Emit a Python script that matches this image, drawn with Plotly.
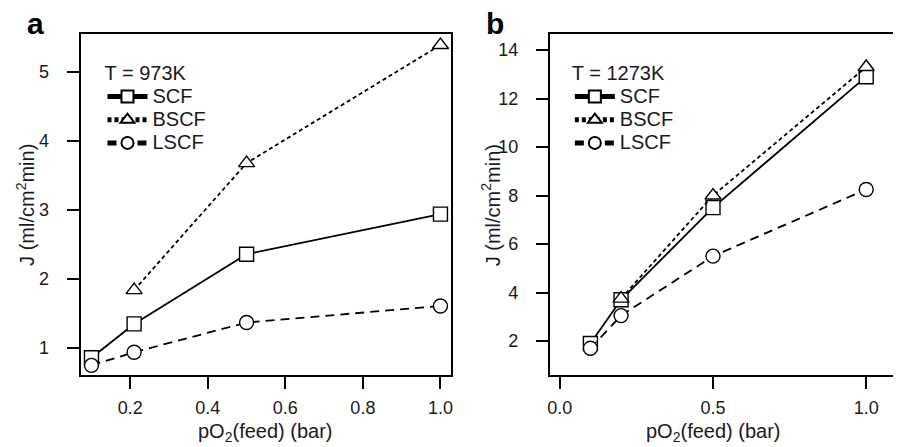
import plotly.graph_objects as go

# Panel a data (T = 973K)
x_a = [0.1, 0.21, 0.5, 1.0]
scf_a = [0.86, 1.35, 2.36, 2.94]
x_a_bscf = [0.21, 0.5, 1.0]
bscf_a = [1.84, 3.68, 5.39]
lscf_a = [0.75, 0.94, 1.37, 1.61]

# Panel b data (T = 1273K)
x_b = [0.1, 0.2, 0.5, 1.0]
scf_b = [1.9, 3.7, 7.5, 12.9]
x_b_bscf = [0.2, 0.5, 1.0]
bscf_b = [3.75, 8.0, 13.3]
lscf_b = [1.7, 3.05, 5.5, 8.25]

series_names = ["SCF", "BSCF", "LSCF"]
xticks_a = [0.2, 0.4, 0.6, 0.8, 1.0]
yticks_a = [1, 2, 3, 4, 5]
xticks_b = [0.0, 0.5, 1.0]
yticks_b = [2, 4, 6, 8, 10, 12, 14]

# page has an 8px body margin; figure is sized to fill the rest
OFF = 8
W, H = 901 - OFF, 447 - OFF
FONT = "Liberation Sans, Arial, Helvetica, sans-serif"
TXT = "#1a1a1a"


def px(x):
    return (x - OFF) / W


def py(y):
    return 1 - (y - OFF) / H


fig = go.Figure()


def add_series(x, y, name, symbol, dash, xa, ya, legend):
    fig.add_trace(go.Scatter(
        x=x, y=y, name='<span style="font-size:20px">%s</span>' % name,
        mode="lines+markers",
        line=dict(color="black", width=1.8, dash=dash),
        marker=dict(symbol=symbol, size=14, color="white",
                    line=dict(color="black", width=1.4)),
        xaxis=xa, yaxis=ya, legend=legend, cliponaxis=False,
    ))


add_series(x_a, scf_a, series_names[0], "square", "solid", "x", "y", "legend")
add_series(x_a_bscf, bscf_a, series_names[1], "triangle-up", "4px,3px", "x", "y", "legend")
add_series(x_a, lscf_a, series_names[2], "circle", "9px,6px", "x", "y", "legend")

add_series(x_b, scf_b, series_names[0], "square", "solid", "x2", "y2", "legend2")
add_series(x_b_bscf, bscf_b, series_names[1], "triangle-up", "4px,3px", "x2", "y2", "legend2")
add_series(x_b, lscf_b, series_names[2], "circle", "9px,6px", "x2", "y2", "legend2")

y_dom = [py(375), py(34)]

axis_common = dict(
    showline=True, linecolor="black", linewidth=2,
    ticks="outside", ticklen=12, tickwidth=2, tickcolor="black",
    showgrid=False, zeroline=False,
    tickfont=dict(family=FONT, size=18, color=TXT),
)

legend_common = dict(
    xanchor="left", yanchor="top", bgcolor="rgba(0,0,0,0)",
    font=dict(family=FONT, size=15.5, color=TXT),
    tracegroupgap=0, itemsizing="constant", itemwidth=40,
)

fig.update_layout(
    width=W, height=H,
    margin=dict(l=0, r=0, t=0, b=0),
    paper_bgcolor="white", plot_bgcolor="white",
    font=dict(family=FONT, color="black"),
    xaxis=dict(domain=[px(78), px(450)], range=[0.072, 1.026],
               tickvals=xticks_a, tickformat=".1f", mirror=True, anchor="y",
               ticklabelstandoff=3, **axis_common),
    yaxis=dict(domain=y_dom, range=[0.61, 5.55], tickvals=yticks_a,
               mirror=True, anchor="x", ticklabelstandoff=14, **axis_common),
    xaxis2=dict(domain=[px(550), 1.0], range=[-0.032, 1.107],
                tickvals=xticks_b, tickformat=".1f", mirror=True, anchor="y2",
                ticklabelstandoff=3, **axis_common),
    yaxis2=dict(domain=y_dom, range=[0.6, 14.66], tickvals=yticks_b,
                anchor="x2", ticklabelstandoff=14, **axis_common),
    legend=dict(x=px(100), y=py(54),
                title=dict(text="T = 973K", font=dict(family=FONT, size=20, color=TXT)),
                **legend_common),
    legend2=dict(x=px(570), y=py(54),
                 title=dict(text="T = 1273K", font=dict(family=FONT, size=20, color=TXT)),
                 **legend_common),
    showlegend=True,
)

ann_font = dict(family=FONT, size=20, color=TXT)
annotations = [
    dict(text="<b>a</b>", x=px(22), y=py(24), xref="paper", yref="paper",
         xanchor="left", yanchor="middle", showarrow=False,
         font=dict(family=FONT, size=30, color="black")),
    dict(text="<b>b</b>", x=px(484), y=py(24), xref="paper", yref="paper",
         xanchor="left", yanchor="middle", showarrow=False,
         font=dict(family=FONT, size=30, color="black")),
    dict(text="pO<sub>2</sub>(feed) (bar)", x=px(264), y=py(432),
         xref="paper", yref="paper", xanchor="center", yanchor="middle",
         showarrow=False, font=ann_font),
    dict(text="pO<sub>2</sub>(feed) (bar)", x=px(714), y=py(432),
         xref="paper", yref="paper", xanchor="center", yanchor="middle",
         showarrow=False, font=ann_font),
    dict(text="J (ml/cm<sup>2</sup>min)", x=px(22), y=py(205),
         xref="paper", yref="paper", xanchor="center", yanchor="middle",
         textangle=-90, showarrow=False, font=ann_font),
    dict(text="J (ml/cm<sup>2</sup>min)", x=px(490), y=py(205),
         xref="paper", yref="paper", xanchor="center", yanchor="middle",
         textangle=-90, showarrow=False, font=ann_font),
]
fig.update_layout(annotations=annotations)

fig.write_html("out.html")
